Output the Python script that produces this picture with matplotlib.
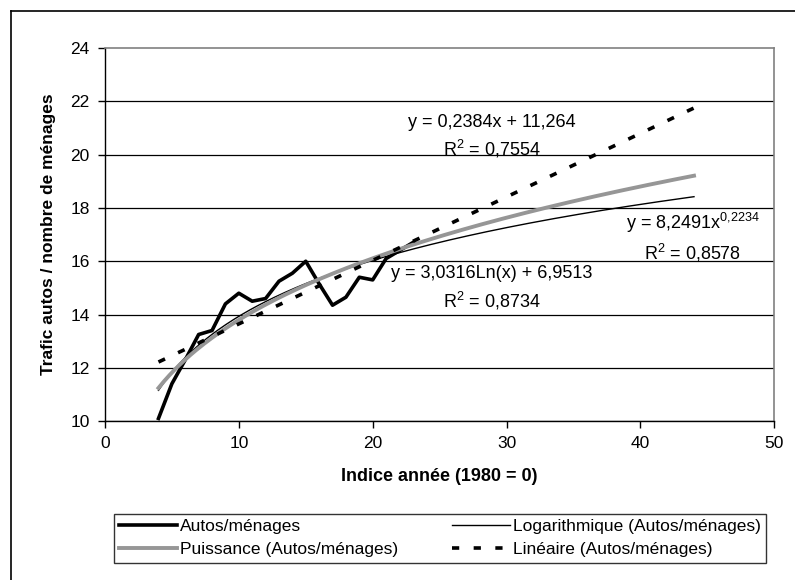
import numpy as np
import matplotlib
matplotlib.use("Agg")
import matplotlib.pyplot as plt
from matplotlib.lines import Line2D

plt.rcParams["font.family"] = ["Liberation Sans", "DejaVu Sans"]
plt.rcParams["mathtext.fontset"] = "custom"
plt.rcParams["mathtext.rm"] = "Liberation Sans"
plt.rcParams["mathtext.it"] = "Liberation Sans"

# indice année (1980 = 0) et trafic autos / nombre de ménages
annees = [4, 5, 6, 7, 8, 9, 10, 11, 12, 13, 14, 15, 16, 17, 18, 19, 20, 21, 22, 23]
autos_menages = [10.1, 11.4, 12.3, 13.25, 13.4, 14.4, 14.8, 14.5, 14.6, 15.25,
                 15.55, 16.0, 15.15, 14.35, 14.65, 15.4, 15.3, 16.1, 16.4, 16.7]

# courbes de tendance (coefficients affichés sur le graphique)
lin_a, lin_b, lin_r2 = 0.2384, 11.264, 0.7554
log_a, log_b, log_r2 = 3.0316, 6.9513, 0.8734
pow_a, pow_b, pow_r2 = 8.2491, 0.2234, 0.8578
x_debut, x_fin = 4, 44

def fr(v):
    return str(v).replace(".", ",")

fig = plt.figure(figsize=(7.95, 5.8), dpi=100)
ax = fig.add_axes([0.132, 0.274, 0.842, 0.643])

xt = np.linspace(x_debut, x_fin, 200)
l_dat, = ax.plot(annees, autos_menages, color="black", lw=2.6, label="Autos/ménages", zorder=3)
l_log, = ax.plot(xt, log_a * np.log(xt) + log_b, color="black", lw=1.0,
                 label="Logarithmique (Autos/ménages)", zorder=4)
l_pow, = ax.plot(xt, pow_a * xt ** pow_b, color="#969696", lw=2.8,
                 label="Puissance (Autos/ménages)", zorder=5)
l_lin, = ax.plot(xt, lin_a * xt + lin_b, color="black", lw=2.6, dashes=(2, 4),
                 label="Linéaire (Autos/ménages)", zorder=6)

fs = 12.5
fe = 13
ax.text(28.9, 21.2, "y = %sx + %s" % (fr(lin_a), fr(lin_b)), ha="center", va="center", fontsize=fe)
ax.text(28.9, 20.2, "R$^2$ = %s" % fr(lin_r2), ha="center", va="center", fontsize=fe)
exposant = fr(pow_b).replace(",", "{,}")
ax.text(43.9, 17.45, "y = %sx$^{%s}$" % (fr(pow_a), exposant), ha="center", va="center", fontsize=fe)
ax.text(43.9, 16.3, "R$^2$ = %s" % fr(pow_r2), ha="center", va="center", fontsize=fe)
ax.text(28.9, 15.55, "y = %sLn(x) + %s" % (fr(log_a), fr(log_b)), ha="center", va="center", fontsize=fe)
ax.text(28.9, 14.5, "R$^2$ = %s" % fr(log_r2), ha="center", va="center", fontsize=fe)

ax.set_xlim(0, 50)
ax.set_ylim(10, 24)
ax.set_xticks(range(0, 51, 10))
ax.set_yticks(range(10, 25, 2))
ax.yaxis.grid(True, color="black", lw=0.9)
ax.get_ygridlines()[-1].set_visible(False)
ax.set_axisbelow(True)
ax.tick_params(direction="out", length=5, width=1, labelsize=fs, pad=6)
for s in ("top", "right"):
    ax.spines[s].set_color("#808080")
    ax.spines[s].set_linewidth(1.2)
for s in ("left", "bottom"):
    ax.spines[s].set_color("black")
    ax.spines[s].set_linewidth(1.0)

ax.set_xlabel("Indice année (1980 = 0)", fontsize=13, fontweight="bold", labelpad=12)
ax.set_ylabel("Trafic autos / nombre de ménages", fontsize=fs, fontweight="bold", labelpad=10)

handles = [l_dat, l_pow, l_log, l_lin]
leg = fig.legend(handles=handles, labels=[h.get_label() for h in handles], ncol=2,
                 loc="upper left", bbox_to_anchor=(114 / 795, 1 - 569 / 580, 652 / 795, 55 / 580),
                 mode="expand", fontsize=fs, frameon=True, fancybox=False,
                 edgecolor="black", handlelength=3.35, handletextpad=0.15,
                 borderaxespad=0, labelspacing=0.45, borderpad=0.3)
leg.get_frame().set_linewidth(1.0)

# cadre extérieur du graphique
fig.add_artist(Line2D([11 / 795, 11 / 795], [0, 1 - 11 / 580], color="black", lw=1.2))
fig.add_artist(Line2D([11 / 795, 1], [1 - 11 / 580, 1 - 11 / 580], color="black", lw=1.2))

fig.savefig("out.png", dpi=100)
